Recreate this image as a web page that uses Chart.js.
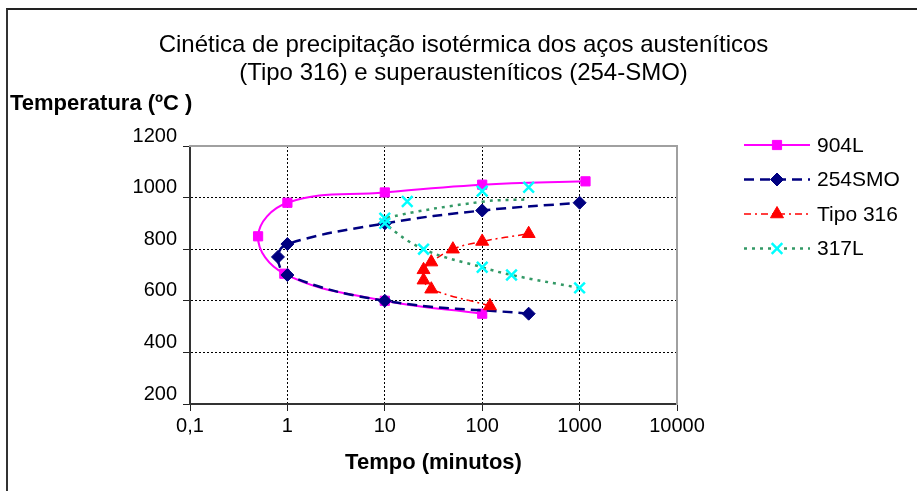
<!DOCTYPE html>
<html>
<head>
<meta charset="utf-8">
<script src="https://cdn.jsdelivr.net/npm/chart.js@4.4.1/dist/chart.umd.min.js"></script>
<style>
  html, body { margin: 0; padding: 0; background: #fff; }
  #wrap { position: relative; width: 917px; height: 491px; }
  #frame { position: absolute; left: 6px; top: 8px; right: 0; bottom: 0; border-top: 2px solid #222; border-left: 2px solid #333; pointer-events: none; }
  canvas { display: block; }
</style>
</head>
<body>
<div id="wrap">
  <canvas id="c" width="917" height="491"></canvas>
  <div id="frame"></div>
</div>
<script>
// ---- data ----
const titleLines = ['Cinética de precipitação isotérmica dos aços austeníticos', '(Tipo 316) e superausteníticos (254-SMO)'];
const yAxisTitle = 'Temperatura (ºC )';
const xAxisTitle = 'Tempo (minutos)';

const xTickValues = [0.1, 1, 10, 100, 1000, 10000];
const xTickLabels = ['0,1', '1', '10', '100', '1000', '10000'];
const yTickValues = [200, 400, 600, 800, 1000, 1200];
const yTickLabels = ['200', '400', '600', '800', '1000', '1200'];

const seriesNames = ['904L', '254SMO', 'Tipo 316', '317L'];

const time904L = [100, 10, 0.93, 0.5, 1, 10, 100, 1150];
const temp904L = [550, 600, 705, 850, 980, 1020, 1050, 1063];

const time254SMO = [300, 10, 1, 0.8, 1, 10, 100, 1000];
const temp254SMO = [550, 600, 700, 770, 820, 900, 950, 980];

const timeTipo316 = [120, 30, 25, 25, 30, 50, 100, 300];
const tempTipo316 = [580, 645, 680, 720, 750, 800, 830, 860];

// 317L: points joined by the dotted line (last two are line-only points)
const time317L = [1000, 200, 100, 25, 10, 10, 100, 300];
const temp317L = [650, 700, 730, 800, 900, 920, 984, 993];
const lineOnly317L = [false, false, false, false, false, false, true, true];
// 317L: markers not joined by the line
const time317LLoose = [17, 100, 300];
const temp317LLoose = [985, 1025, 1040];

const pts = (xs, ys) => xs.map((x, i) => ({ x: x, y: ys[i] }));

const FONT = '"Liberation Sans", Arial, sans-serif';
Chart.defaults.font.family = FONT;
Chart.defaults.color = '#000';

const datasets = [
  {
    label: seriesNames[0], data: pts(time904L, temp904L), showLine: true, order: 5,
    borderColor: '#FF00FF', borderWidth: 2, borderDash: [], tension: 0.4,
    pointStyle: 'rect', pointRadius: 6.5, pointBackgroundColor: '#FF00FF', pointBorderColor: '#FF00FF', pointBorderWidth: 1
  },
  {
    label: seriesNames[1], data: pts(time254SMO, temp254SMO), showLine: true, order: 4,
    borderColor: '#000080', borderWidth: 2.5, borderDash: [10, 6], tension: 0.4,
    pointStyle: 'rectRot', pointRadius: 6.5, pointBackgroundColor: '#000080', pointBorderColor: '#000080', pointBorderWidth: 1
  },
  {
    label: seriesNames[2], data: pts(timeTipo316, tempTipo316), showLine: true, order: 3,
    borderColor: '#FF0000', borderWidth: 1.5, borderDash: [7, 4, 2, 4], tension: 0.4,
    pointStyle: 'triangle', pointRadius: 7.5, pointBackgroundColor: '#FF0000', pointBorderColor: '#FF0000', pointBorderWidth: 1
  },
  {
    label: seriesNames[3], data: pts(time317L, temp317L), showLine: true, order: 2,
    borderColor: '#339966', borderWidth: 2.5, borderDash: [3, 5], tension: 0.4,
    pointStyle: 'crossRot',
    pointRadius: (c) => (lineOnly317L[c.dataIndex] ? 0 : 7.5),
    pointBackgroundColor: '#00FFFF', pointBorderColor: '#00FFFF', pointBorderWidth: 2.5
  },
  {
    label: seriesNames[3], inLegend: false, data: pts(time317LLoose, temp317LLoose), showLine: false, order: 1,
    borderColor: '#339966', borderWidth: 0,
    pointStyle: 'crossRot', pointRadius: 7.5, pointBackgroundColor: '#00FFFF', pointBorderColor: '#00FFFF', pointBorderWidth: 2.5
  }
];

const sideLegend = {
  id: 'sideLegend',
  afterDraw(chart) {
    const ctx = chart.ctx;
    const area = chart.chartArea;
    const x0 = area.right + 67, lineLen = 66, rowH = 34.5, y0 = area.top - 1;
    let row = 0;
    chart.data.datasets.forEach((ds) => {
      if (ds.inLegend === false) return;
      const y = y0 + row * rowH;
      row++;
      ctx.save();
      ctx.strokeStyle = ds.borderColor;
      ctx.lineWidth = ds.borderWidth;
      ctx.setLineDash(ds.borderDash || []);
      ctx.beginPath(); ctx.moveTo(x0, y); ctx.lineTo(x0 + lineLen, y); ctx.stroke();
      ctx.setLineDash([]);
      ctx.fillStyle = ds.pointBackgroundColor;
      ctx.strokeStyle = ds.pointBorderColor;
      ctx.lineWidth = ds.pointBorderWidth;
      const r = typeof ds.pointRadius === 'number' ? ds.pointRadius : 7.5;
      Chart.helpers.drawPoint(ctx, { pointStyle: ds.pointStyle, radius: r, borderWidth: ds.pointBorderWidth, rotation: 0 }, x0 + lineLen / 2, y);
      ctx.fillStyle = '#000';
      ctx.font = '21px ' + FONT;
      ctx.textBaseline = 'middle';
      ctx.textAlign = 'left';
      ctx.fillText(ds.label, x0 + lineLen + 7, y + 1);
      ctx.restore();
    });
  }
};

new Chart(document.getElementById('c'), {
  type: 'scatter',
  data: { datasets: datasets },
  plugins: [sideLegend],
  options: {
    responsive: false,
    animation: false,
    devicePixelRatio: 1,
    layout: { padding: { left: 10, right: 0, top: 0, bottom: 0 } },
    plugins: {
      legend: { display: false },
      tooltip: { enabled: false },
      title: {
        display: true, text: titleLines, color: '#000',
        font: { size: 24, weight: 'normal', lineHeight: 1.2 },
        padding: { top: 30.6, bottom: 0 }
      },
      subtitle: {
        display: true, text: yAxisTitle, align: 'start', color: '#000',
        font: { size: 22, weight: 'bold', lineHeight: 1.2 },
        padding: { top: 2.6, bottom: 28.8 }
      }
    },
    scales: {
      x: {
        type: 'logarithmic', position: 'bottom', min: 0.1, max: 10000,
        afterBuildTicks: (s) => { s.ticks = xTickValues.map(v => ({ value: v })); },
        afterFit: (s) => { s.height = 87; },
        ticks: {
          autoSkip: false, maxRotation: 0, minRotation: 0, padding: 3,
          font: { size: 20 }, color: '#000',
          callback: (v, i) => xTickLabels[i]
        },
        grid: {
          color: (c) => (c.tick && c.tick.value === 10000 ? 'rgba(0,0,0,0)' : '#000'),
          tickColor: '#222', lineWidth: 1, tickLength: 7
        },
        border: { display: true, color: '#333', width: 2, dash: [2, 2] },
        title: {
          display: true, text: xAxisTitle, color: '#000',
          font: { size: 22, weight: 'bold', lineHeight: 1.2 },
          padding: { top: 0, bottom: 14.8 }
        }
      },
      y: {
        type: 'linear', position: 'left', min: 200, max: 1200,
        afterBuildTicks: (s) => { s.ticks = yTickValues.map(v => ({ value: v })); },
        afterFit: (s) => { s.width = 180; },
        ticks: {
          padding: 6, labelOffset: -10, font: { size: 20 }, color: '#000',
          callback: (v, i) => yTickLabels[i]
        },
        grid: {
          color: (c) => (c.tick && c.tick.value === 1200 ? 'rgba(0,0,0,0)' : '#000'),
          tickColor: '#222', lineWidth: 1, tickLength: 7
        },
        border: { display: true, color: '#333', width: 2, dash: [2, 2] }
      },
      x2: {
        type: 'logarithmic', position: 'top', min: 0.1, max: 10000, display: true, z: 1,
        afterFit: (s) => { s.height = 0; },
        ticks: { display: false },
        grid: { display: false, drawTicks: false },
        border: { display: true, color: '#A0A0A0', width: 2 }
      },
      y2: {
        type: 'linear', position: 'right', min: 200, max: 1200, display: true, z: 1,
        afterFit: (s) => { s.width = 240; },
        ticks: { display: false },
        grid: { display: false, drawTicks: false },
        border: { display: true, color: '#A0A0A0', width: 2 }
      }
    }
  }
});
</script>
</body>
</html>
